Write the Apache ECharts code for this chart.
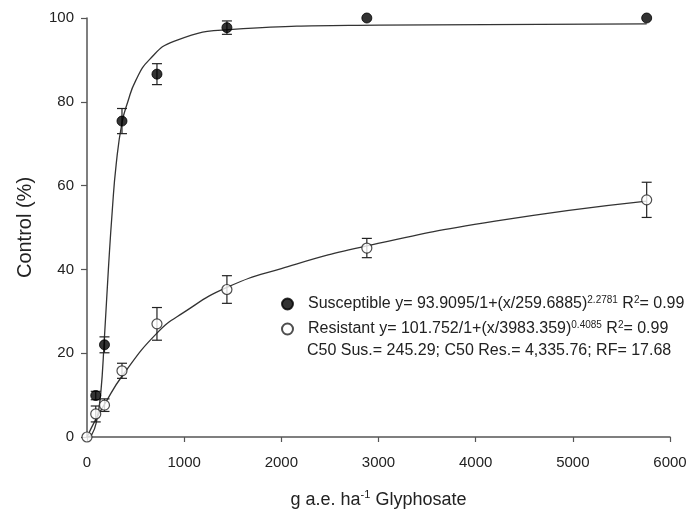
<!DOCTYPE html>
<html>
<head>
<meta charset="utf-8">
<script src="https://cdn.jsdelivr.net/npm/echarts@6/dist/echarts.min.js"></script>
<style>
	html, body { margin: 0; padding: 0; background: #fff; }
	#chart { width: 694px; height: 519px; }
</style>
</head>
<body>
<div id="chart"></div>
<script>
// 剂量 (g a.e. ha-1)
var doses = [0, 90, 180, 360, 720, 1440, 2880, 5760];

// 敏感型: 均值 / 误差
var susMean = [null, 9.9, 22.0, 75.4, 86.6, 97.7, 100, 100];
var susErr = [0, 1.0, 1.9, 3.0, 2.5, 1.6, 0, 0];

// 抗性型: 均值 / 误差
var resMean = [0, 5.5, 7.6, 15.8, 27.0, 35.2, 45.1, 56.6];
var resErr = [0, 1.9, 1.5, 1.8, 3.9, 3.3, 2.3, 4.2];

// 拟合曲线
var susCurveX = [0, 50, 100, 140, 180, 220, 260, 300, 360, 420, 500, 640, 900, 1500, 3000, 5760];
var susCurveY = [0, 0.6, 4.0, 10.0, 24.0, 40.0, 54.0, 65.0, 75.0, 80.0, 85.0, 90.0, 94.5, 97.3, 98.3, 98.6];
var resCurveX = [0, 90, 180, 360, 720, 1000, 1440, 2000, 2880, 4200, 5760];
var resCurveY = [0, 4.2, 7.8, 14.5, 24.8, 29.8, 35.7, 40.2, 45.6, 51.5, 56.3];

var xTicks = [0, 1000, 2000, 3000, 4000, 5000, 6000];
var yTicks = [0, 20, 40, 60, 80, 100];

function pairs(xs, ys) {
	var out = [];
	for (var i = 0; i < xs.length; i++) {
		if (ys[i] === null) continue;
		out.push([xs[i], ys[i]]);
	}
	return out;
}

function errData(xs, ys, es) {
	var out = [];
	for (var i = 0; i < xs.length; i++) {
		if (ys[i] === null || !es[i]) continue;
		out.push([xs[i], ys[i], es[i]]);
	}
	return out;
}

// 误差线
function renderErr(params, api) {
	var x = api.value(0), y = api.value(1), e = api.value(2);
	var hi = api.coord([x, y + e]);
	var lo = api.coord([x, y - e]);
	var w = 5;
	var st = { stroke: '#222', lineWidth: 1.2 };
	return {
		type: 'group',
		children: [
			{ type: 'line', shape: { x1: hi[0], y1: hi[1], x2: lo[0], y2: lo[1] }, style: st },
			{ type: 'line', shape: { x1: hi[0] - w, y1: hi[1], x2: hi[0] + w, y2: hi[1] }, style: st },
			{ type: 'line', shape: { x1: lo[0] - w, y1: lo[1], x2: lo[0] + w, y2: lo[1] }, style: st }
		]
	};
}

var font = 'Liberation Sans, Arial, sans-serif';
var supStyle = { fontSize: 10, verticalAlign: 'top', lineHeight: 18, fontFamily: font, color: '#222' };

var chart = echarts.init(document.getElementById('chart'));

var option = {
	animation: false,
	backgroundColor: '#fff',
	grid: { left: 87, right: 24, top: 18, bottom: 82 },
	xAxis: {
		type: 'value',
		min: xTicks[0],
		max: xTicks[xTicks.length - 1],
		interval: 1000,
		splitLine: { show: false },
		axisLine: { lineStyle: { color: '#555', width: 1.5 } },
		axisTick: { show: true, length: 5, lineStyle: { color: '#555', width: 1.2 } },
		axisLabel: {
			color: '#222', fontSize: 15, fontFamily: font, margin: 18,
			formatter: function (v) { return String(v); }
		},
		name: 'g a.e. ha{sup|-1} Glyphosate',
		nameLocation: 'middle',
		nameGap: 52,
		nameTextStyle: {
			color: '#222', fontSize: 18, fontFamily: font, lineHeight: 22,
			rich: { sup: { fontSize: 11, verticalAlign: 'top', lineHeight: 22, color: '#222', fontFamily: font } }
		}
	},
	yAxis: {
		type: 'value',
		min: yTicks[0],
		max: yTicks[yTicks.length - 1],
		interval: 20,
		splitLine: { show: false },
		axisLine: { show: true, lineStyle: { color: '#555', width: 1.5 } },
		axisTick: { show: true, length: 6, lineStyle: { color: '#555', width: 1.2 } },
		axisLabel: { color: '#222', fontSize: 15, fontFamily: font, margin: 13 },
		name: 'Control (%)',
		nameLocation: 'middle',
		nameGap: 52,
		nameTextStyle: { color: '#222', fontSize: 20, fontFamily: font }
	},
	legend: {
		data: ['Susceptible', 'Resistant'],
		orient: 'vertical',
		left: 276,
		top: 290,
		itemWidth: 11,
		itemHeight: 11,
		itemGap: 7,
		icon: 'circle',
		selectedMode: false,
		formatter: function (name) {
			if (name === 'Susceptible') {
				return 'Susceptible y= 93.9095/1+(x/259.6885){sup|2.2781} R{sup|2}= 0.99';
			}
			return 'Resistant y= 101.752/1+(x/3983.359){sup|0.4085} R{sup|2}= 0.99';
		},
		textStyle: {
			color: '#222', fontSize: 16, fontFamily: font, lineHeight: 18,
			padding: [0, 0, 0, 10],
			rich: { sup: supStyle }
		}
	},
	graphic: [{
		type: 'text',
		left: 307,
		top: 343,
		style: {
			text: 'C50 Sus.= 245.29; C50 Res.= 4,335.76; RF= 17.68',
			fill: '#222',
			font: '16px ' + font
		}
	}],
	series: [{
		name: 'susCurve',
		type: 'line',
		data: pairs(susCurveX, susCurveY),
		smooth: 0.5,
		showSymbol: false,
		silent: true,
		lineStyle: { color: '#333', width: 1.3 },
		z: 2
	}, {
		name: 'resCurve',
		type: 'line',
		data: pairs(resCurveX, resCurveY),
		smooth: 0.5,
		showSymbol: false,
		silent: true,
		lineStyle: { color: '#333', width: 1.3 },
		z: 2
	}, {
		name: 'susErr',
		type: 'custom',
		renderItem: renderErr,
		data: errData(doses, susMean, susErr),
		silent: true,
		z: 3
	}, {
		name: 'resErr',
		type: 'custom',
		renderItem: renderErr,
		data: errData(doses, resMean, resErr),
		silent: true,
		z: 3
	}, {
		name: 'Susceptible',
		type: 'scatter',
		data: pairs(doses, susMean),
		symbol: 'circle',
		symbolSize: 10,
		itemStyle: { color: '#000', borderColor: '#000', borderWidth: 1 },
		z: 4
	}, {
		name: 'Resistant',
		type: 'scatter',
		data: pairs(doses, resMean),
		symbol: 'circle',
		symbolSize: 10,
		itemStyle: { color: '#fff', borderColor: '#222', borderWidth: 1.2 },
		z: 5
	}]
};

chart.setOption(option);
</script>
</body>
</html>
